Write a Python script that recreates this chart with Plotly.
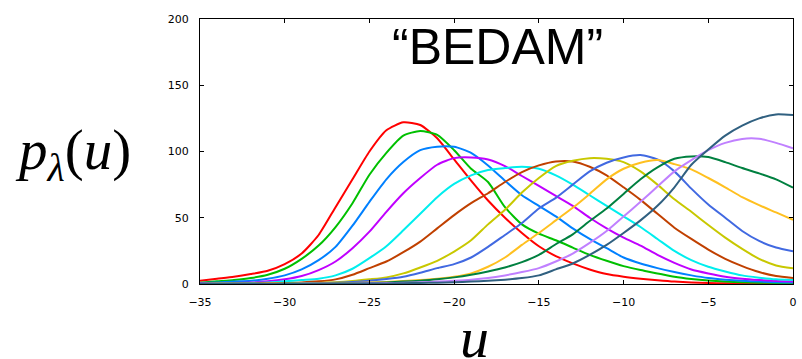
import plotly.graph_objects as go

u_values = list(range(-35, 1))

red = [2.5,4,5.5,7.5,10,15,23,37,58,79,100,116,122,120,110,94,78,63,50,38.5,28.5,21,15.6,11,7.5,5.5,4,2.8,1.8,1.2,0.8,0.5,0.4,0.3,0.2,0.2]
green = [1,2,3,4.5,7,11.5,19,29,43,61,82.5,99,112,115.5,112.5,101,87,77,58,45,38,33,27.5,22,17.5,13.5,10.5,8,5.5,3.8,2.6,1.8,1.3,1,0.8,0.5]
blue = [0.8,1.2,1.8,2.5,4,6.5,11,18,28,44,62,79,92,101,103.6,103.5,99,89.5,78,67,59,51,42,34,27,20,15.5,12,9,6.5,4.5,3.3,2.5,1.8,1.4,1.2]
magenta = [0.3,0.5,0.8,1.2,2,3.5,6,10.5,17,27,39.5,54.5,68.5,80,90,95,95.5,94,89,81.5,74,66.5,59,50,42,35,29,22,16,11,8,5.5,4,3,2.2,1.8]
cyan = [0.2,0.3,0.5,0.8,1.2,2,3,4,6.5,11.5,19.5,28.5,40.5,53,65.5,75.5,82,86,87.5,88.5,87,82,75,67,59,51,43,34,25,18,13,9.5,6.5,4.8,3.5,3]
brown = [0.1,0.2,0.3,0.4,0.6,0.8,1.2,2,3.5,7,12,17,24,32,42,52,61,68.5,77,84.5,89.5,92.5,92.5,88.5,82,73,63.5,53,42.5,34,26,19,13.5,9,6,4.5]
olive = [0,0.1,0.1,0.2,0.3,0.4,0.6,0.8,1.3,2.2,3.5,5,8,12.5,17.5,24.5,33,45,56,69,80,89,93,95,94.5,92,85,75,64,54.5,44.5,35,26.5,19,14,11.8]
royal = [0,0,0.1,0.1,0.2,0.3,0.4,0.6,0.9,1.5,2.5,3.8,5.5,8.5,12,15,20,28,37,46,57,65,75,85,91.5,95.5,97.3,94,85,72,60,50,40,32.5,27.5,24.7]
gold = [0,0,0,0,0.1,0.1,0.2,0.3,0.5,0.8,1.2,1.6,2.2,3,4,5.5,8,13,20,29.5,38.5,48,57.5,68,79,87,91.5,93.5,90.5,86.5,80,73,65.5,59.5,54,48.5]
darkgreen = [0,0,0,0,0,0.1,0.1,0.2,0.3,0.5,0.8,1.2,1.8,2.5,3.5,5,7,9.5,12.5,16.5,22,30,37.5,47.5,57,68,79,88,94.5,96.3,95.8,92,87.5,83.5,79,72.7]
lightpurple = [0,0,0,0,0,0,0.1,0.1,0.2,0.3,0.5,0.7,1,1.3,1.8,2.4,3.2,4.5,6.5,9,12,17,23,31,40,51,62,73.5,85,93.5,101,106.5,109.5,109.6,106.5,102.4]
slate = [0,0,0,0,0,0,0,0.1,0.1,0.2,0.3,0.4,0.6,0.8,1,1.3,1.8,2.5,3.3,4.5,6.5,11,15.5,22,29.5,38.5,48,59,73,90,101.5,112,119.5,125,128,127.5]

series = [red, green, blue, magenta, cyan, brown, olive, royal, gold, darkgreen, lightpurple, slate]
colors = ["#ff0000", "#00c000", "#0080ff", "#c000ff", "#00eeee", "#c04000",
          "#c8c800", "#4169e1", "#ffc020", "#008040", "#c080ff", "#306080"]

x_ticks = [-35, -30, -25, -20, -15, -10, -5, 0]
y_ticks = [0, 50, 100, 150, 200]

fig = go.Figure()
for vals, col in zip(series, colors):
    fig.add_trace(go.Scatter(x=u_values, y=vals, mode="lines",
                             line=dict(color=col, width=2, shape="spline", smoothing=0.6),
                             showlegend=False, hoverinfo="skip"))

axis_common = dict(showline=True, linecolor="black", linewidth=1, mirror="ticks",
                   ticks="inside", ticklen=4, tickcolor="black", tickwidth=1,
                   showgrid=False, zeroline=False,
                   tickfont=dict(family="DejaVu Sans", size=11, color="black"))

fig.update_xaxes(range=[-35, 0], tickvals=x_ticks, ticklabelstandoff=8, **axis_common)
fig.update_yaxes(range=[0, 200], tickvals=y_ticks, ticklabelstandoff=8, **axis_common)

fig.add_annotation(text="\u201cBEDAM\u201d", xref="paper", yref="paper",
                   x=0.5025, y=0.894, xanchor="center", yanchor="middle",
                   showarrow=False,
                   font=dict(family="Liberation Sans", size=50, color="black"))
fig.add_annotation(text="<i>p</i><sub><i>\u03bb</i></sub>(<i>u</i>)", xref="paper", yref="paper",
                   x=-0.2144, y=0.49, xanchor="center", yanchor="middle",
                   showarrow=False,
                   font=dict(family="Liberation Serif", size=57, color="black"))
fig.add_annotation(text="<i>u</i>", xref="paper", yref="paper",
                   x=0.463, y=-0.2, xanchor="center", yanchor="middle",
                   showarrow=False,
                   font=dict(family="Liberation Serif", size=58, color="black"))

fig.update_layout(width=802, height=359,
                  margin=dict(l=200, r=5, t=19, b=75),
                  paper_bgcolor="white", plot_bgcolor="white")

fig.write_html("out.html")
